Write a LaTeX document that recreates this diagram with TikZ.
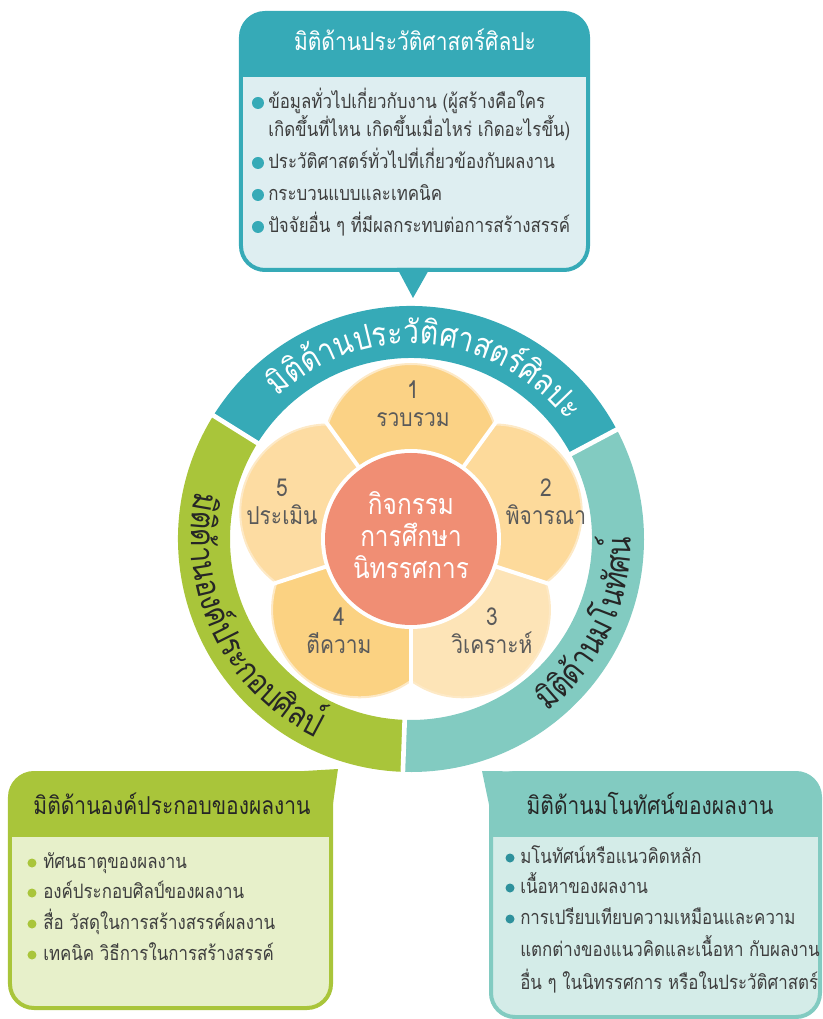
\documentclass[tikz,border=0pt]{standalone}
\usepackage{fontspec}
\newfontfamily\thaifont[Script=Thai, FakeStretch=0.85]{Loma}
\usetikzlibrary{decorations.text}
\definecolor{histteal}{HTML}{36AAB7}
\definecolor{histfill}{HTML}{DEEEF1}
\definecolor{compgreen}{HTML}{A9C53A}
\definecolor{compfill}{HTML}{E7F0CA}
\definecolor{conmint}{HTML}{82CBC1}
\definecolor{confill}{HTML}{D4ECE8}
\definecolor{hubred}{HTML}{F08E74}
\definecolor{petalA}{HTML}{FBD285}
\definecolor{petalB}{HTML}{FDDA9B}
\definecolor{petalC}{HTML}{FDE4B7}
\definecolor{petalD}{HTML}{FBD282}
\definecolor{petalE}{HTML}{FDDCA2}
\definecolor{petaledge}{HTML}{FDE9C6}
\definecolor{petalink}{HTML}{5A5A5A}
\definecolor{inkgray}{HTML}{3E3E3E}
\definecolor{inkdark}{HTML}{262626}
\newcommand\ringfont{\thaifont\fontsize{25}{30}\selectfont}
\tikzset{
	bodytext/.style={anchor=west, inner sep=0pt, text=inkgray, text height=11pt, text depth=3pt, font=\thaifont\fontsize{14.9}{18}\selectfont},
	headtext/.style={inner sep=0pt, text height=12pt, text depth=3pt, font=\thaifont\fontsize{18.5}{22}\selectfont},
	petaltext/.style={align=center, inner sep=0pt, text=petalink, font=\thaifont\fontsize{18.5}{21}\selectfont},
	hubtext/.style={align=center, inner sep=0pt, text=white, font=\thaifont\fontsize{21.5}{24}\selectfont}
}

\begin{document}
\begin{tikzpicture}[x=0.75pt, y=0.75pt]
	\useasboundingbox (-411,-480) rectangle (412,539);

	\fill [histteal] (28:233) arc [start angle=28, end angle=148, radius=233] -- (148:181) arc [start angle=148, end angle=28, radius=181] -- cycle;
	\fill [compgreen] (148:233) arc [start angle=148, end angle=268, radius=233] -- (268:181) arc [start angle=268, end angle=148, radius=181] -- cycle;
	\fill [conmint] (268:233) arc [start angle=268, end angle=388, radius=233] -- (28:181) arc [start angle=388, end angle=268, radius=181] -- cycle;
	\foreach \a in {28,148,268}
		\draw [white, line width=3.5pt] (\a:175) -- (\a:240);

	\path [decorate, decoration={text along path, text align=center, text color=white, text={|\ringfont|{มิ}{ติ}{ด้}{า}{น}{ป}{ร}{ะ}{วั}{ติ}{ศ}{า}{ส}{ต}{ร์}{ศิ}{ล}{ป}{ะ}}}] (145:195) arc [start angle=145, end angle=25, radius=195];
	\path [decorate, decoration={text along path, text align=center, text color=inkdark, text={|\ringfont|{มิ}{ติ}{ด้}{า}{น}{อ}{ง}{ค์}{ป}{ร}{ะ}{ก}{อ}{บ}{ศิ}{ล}{ป์}}}] (146:220) arc [start angle=146, end angle=266, radius=220];
	\path [decorate, decoration={text along path, text align=center, text color=inkdark, text={|\ringfont|{มิ}{ติ}{ด้}{า}{น}{ม}{โ}{น}{ทั}{ศ}{น์}}}] (-85.5:220) arc [start angle=-85.5, end angle=34.5, radius=220];

	\foreach \a/\c in {90/petalA, 18/petalB, -54/petalC, -126/petalD, 162/petalE} {
		\begin{scope}
			\clip (0,0) -- ({\a-36}:200) arc [start angle={\a-36}, end angle={\a+36}, radius=200] -- cycle;
			\fill [\c, draw=petaledge, line width=1.5pt] (\a:87.5) circle [radius=87.5];
		\end{scope}
	}
	\foreach \a in {54,126,198,270,342}
		\draw [white, line width=3pt] (0,0) -- (\a:178);
	\fill [white] (0,0) circle [radius=90];
	\fill [hubred] (0,0) circle [radius=86];

	\node (hub) [hubtext] at (0,4) {กิจกรรม\\การศึกษา\\นิทรรศการ};
	\node (collect) [petaltext] at (2,135) {1\\รวบรวม};
	\node (consider) [petaltext] at (135,37) {2\\พิจารณา};
	\node (analyse) [petaltext] at (81,-92) {3\\วิเคราะห์};
	\node (interpret) [petaltext] at (-72,-92) {4\\ตีความ};
	\node (evaluate) [petaltext] at (-129,37) {5\\ประเมิน};

	\begin{scope}
		\clip [rounded corners=18pt] (-170,269) rectangle (177,526);
		\fill [histfill] (-170,269) rectangle (177,526);
		\fill [histteal] (-170,462) rectangle (177,526);
	\end{scope}
	\draw [histteal, line width=3pt, rounded corners=18pt] (-170,269) rectangle (177,526);
	\fill [histteal] (-14,271) -- (2,241) -- (19,271) -- cycle;
	\node (histhead) [headtext, text=white] at (4,494) {มิติด้านประวัติศาสตร์ศิลปะ};
	\foreach \y in {436,376,344,312}
		\fill [histteal] (-153,\y) circle [radius=6];
	\node (hist1) [bodytext] at (-143,436) {ข้อมูลทั่วไปเกี่ยวกับงาน (ผู้สร้างคือใคร};
	\node (hist1b) [bodytext] at (-143,408) {เกิดขึ้นที่ไหน เกิดขึ้นเมื่อไหร่ เกิดอะไรขึ้น)};
	\node (hist2) [bodytext] at (-143,376) {ประวัติศาสตร์ทั่วไปที่เกี่ยวข้องกับผลงาน};
	\node (hist3) [bodytext] at (-143,344) {กระบวนแบบและเทคนิค};
	\node (hist4) [bodytext] at (-143,312) {ปัจจัยอื่น ๆ ที่มีผลกระทบต่อการสร้างสรรค์};

	\begin{scope}
		\clip [rounded corners=18pt] (-401,-234) rectangle (-80,-469);
		\fill [compfill] (-401,-234) rectangle (-80,-469);
		\fill [compgreen] (-401,-234) rectangle (-80,-298);
	\end{scope}
	\draw [compgreen, line width=3pt, rounded corners=18pt] (-401,-234) rectangle (-80,-469);
	\fill [compgreen] (-115,-232.5) -- (-73,-230) -- (-78.5,-268) -- cycle;
	\node (comphead) [headtext, text=inkdark] at (-239,-269) {มิติด้านองค์ประกอบของผลงาน};
	\foreach \y in {-324,-354,-385,-416}
		\fill [compgreen] (-379,\y) circle [radius=4.5];
	\node (comp1) [bodytext] at (-368,-324) {ทัศนธาตุของผลงาน};
	\node (comp2) [bodytext] at (-368,-354) {องค์ประกอบศิลป์ของผลงาน};
	\node (comp3) [bodytext] at (-368,-385) {สื่อ วัสดุในการสร้างสรรค์ผลงาน};
	\node (comp4) [bodytext] at (-368,-416) {เทคนิค วิธีการในการสร้างสรรค์};

	\begin{scope}
		\clip [rounded corners=18pt] (80,-234) rectangle (409,-478);
		\fill [confill] (80,-234) rectangle (409,-478);
		\fill [conmint] (80,-234) rectangle (409,-298);
	\end{scope}
	\draw [conmint, line width=3pt, rounded corners=18pt] (80,-234) rectangle (409,-478);
	\fill [conmint] (112,-232.5) -- (71,-232) -- (78.5,-268) -- cycle;
	\node (conhead) [headtext, text=inkdark] at (239,-269) {มิติด้านมโนทัศน์ของผลงาน};
	\foreach \y in {-319,-349,-380}
		\fill [histteal!85!black] (99,\y) circle [radius=4.5];
	\node (con1) [bodytext] at (109,-319) {มโนทัศน์หรือแนวคิดหลัก};
	\node (con2) [bodytext] at (109,-349) {เนื้อหาของผลงาน};
	\node (con3) [bodytext] at (109,-380) {การเปรียบเทียบความเหมือนและความ};
	\node (con3b) [bodytext] at (109,-412) {แตกต่างของแนวคิดและเนื้อหา กับผลงาน};
	\node (con3c) [bodytext] at (109,-445) {อื่น ๆ ในนิทรรศการ หรือในประวัติศาสตร์};
\end{tikzpicture}
\end{document}
